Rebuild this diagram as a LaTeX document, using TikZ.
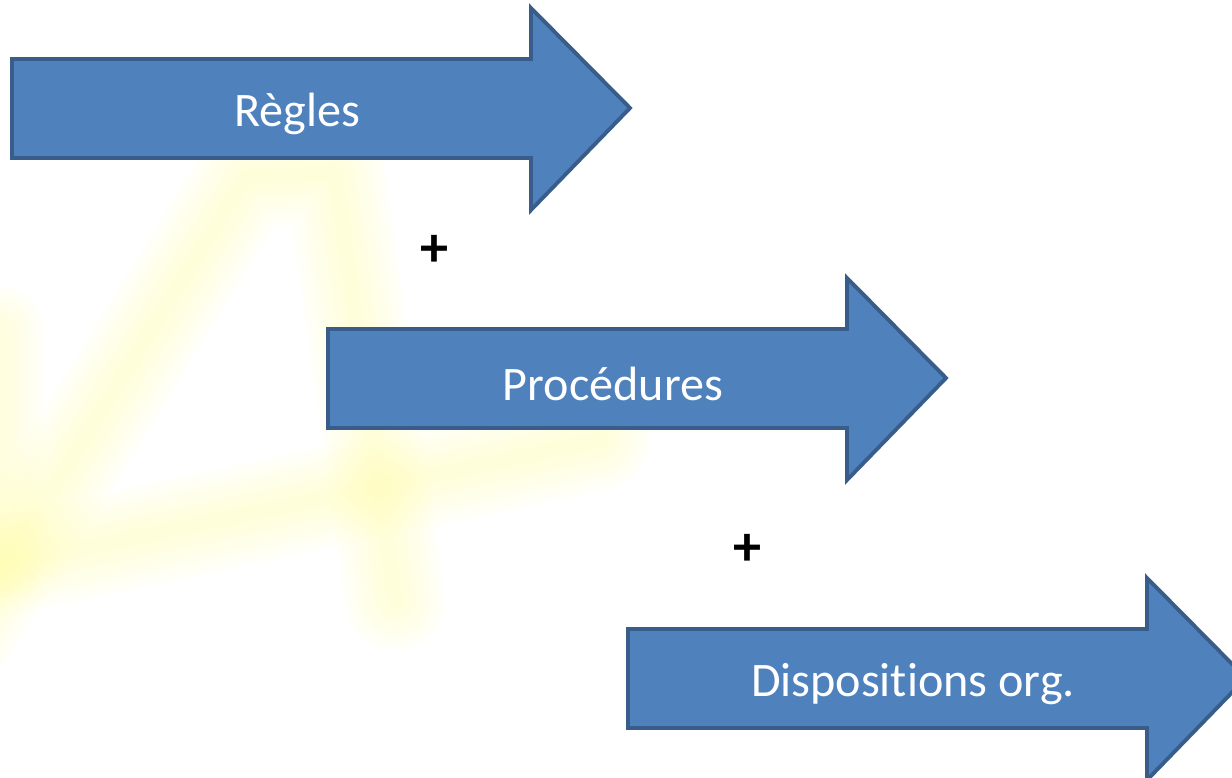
\documentclass[tikz,border=0pt]{standalone}
\usepackage{fontspec}
\setmainfont[Ligatures=NoCommon]{Carlito}
\definecolor{flechefill}{RGB}{79,129,189}
\definecolor{flechebord}{RGB}{56,93,138}
\definecolor{filigr}{RGB}{255,252,160}
\tikzset{
    fleche/.style={draw=flechebord,fill=flechefill,line width=2.2pt,line join=miter},
    etiquette/.style={text=white,inner sep=0pt,font=\fontsize{27.4}{30}\selectfont},
    signe/.style={inner sep=0pt,font=\fontsize{32}{34}\selectfont\bfseries},
    filigrane/.style={draw=filigr,line cap=round,line join=round}
}
\begin{document}
\begin{tikzpicture}[x=0.02cm,y=-0.02cm]
    \useasboundingbox (0,0) rectangle (1232,778);
    \clip (0,0) rectangle (1232,778);
    % le A en filigrane
    \foreach \w in {100,88,...,16}
    {
        \draw[filigrane,line width=\w*0.567pt,opacity=0.06]
            (-40,640)--(245,178)--(335,172)--(395,600);
        \draw[filigrane,line width=\w*0.567pt,opacity=0.06]
            (-20,570)--(600,440);
        \draw[filigrane,line width=\w*0.5pt,opacity=0.05]
            (0,330)--(0,560);
    }
    % les trois fleches
    \foreach \dx/\dy/\txt/\nom in {0/0/Règles/regles,316/270/Procédures/proc,616/570/Dispositions org./dispo}
    {
        \draw[fleche] (12+\dx,59+\dy)--(531+\dx,59+\dy)--(531+\dx,8+\dy)
            --(630+\dx,108+\dy)--(531+\dx,210+\dy)--(531+\dx,158+\dy)
            --(12+\dx,158+\dy)--cycle;
        \node[etiquette] (\nom) at (297+\dx,114+\dy) {\txt};
    }
    \node[signe] (plusa) at (434,251) {+};
    \node[signe] (plusb) at (747,550) {+};
\end{tikzpicture}
\end{document}
